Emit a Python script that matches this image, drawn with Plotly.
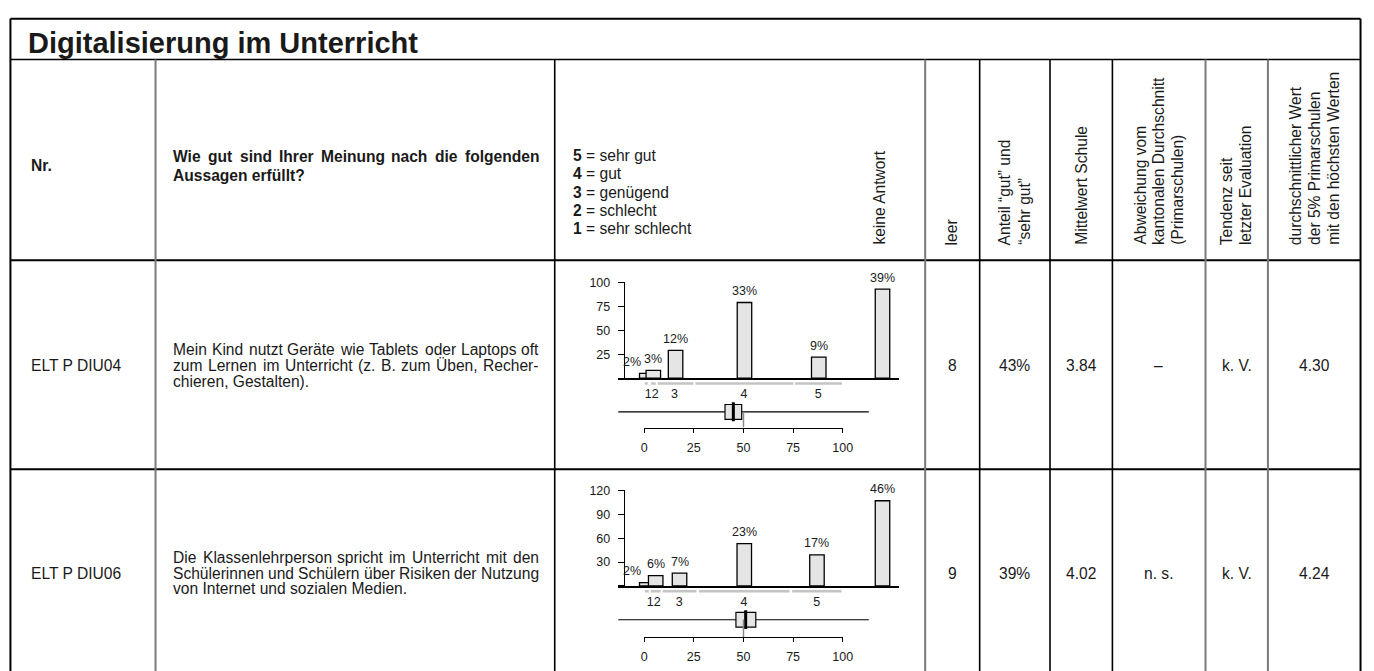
import plotly.graph_objects as go

W, H = 1374, 671
FONT = "Liberation Sans"
INK = "#1a1a1a"

# ---------------- data ----------------
title = "Digitalisierung im Unterricht"
item_ids = ["ELT P DIU04", "ELT P DIU06"]
item_texts = [
    ["Mein Kind nutzt Geräte wie Tablets oder Laptops oft",
     "zum Lernen im Unterricht (z. B. zum Üben, Recher-",
     "chieren, Gestalten)."],
    ["Die Klassenlehrperson spricht im Unterricht mit den",
     "Schülerinnen und Schülern über Risiken der Nutzung",
     "von Internet und sozialen Medien."],
]
categories = ["1", "2", "3", "4", "5", "keine Antwort"]
counts_1 = [5, 8, 29, 79, 22, 93]
counts_2 = [4, 13, 16, 53, 39, 107]
pct_1 = ["2%", "3%", "12%", "33%", "9%", "39%"]
pct_2 = ["2%", "6%", "7%", "23%", "17%", "46%"]
# bar positions on the 0-100 scale (keine Antwort placed right of the scale)
cat_pos_1 = [1.3, 4.6, 15.8, 50.5, 87.9, 120.0]
cat_pos_2 = [1.3, 5.8, 17.8, 50.4, 87.0, 120.0]
# category label positions on the 0-100 scale
cat_lab_1 = [2.1, 5.6, 15.3, 50.2, 87.6]
cat_lab_2 = [3.1, 6.6, 17.7, 50.2, 86.9]
# category ranges on the 0-100 scale (grey segments)
seg_lo_1 = [0.3, 3.4, 6.8, 25.8, 76.0]
seg_hi_1 = [1.8, 5.8, 24.8, 75.1, 99.6]
seg_lo_2 = [0.35, 3.3, 9.3, 27.6, 74.5]
seg_hi_2 = [2.3, 8.3, 26.3, 73.2, 99.4]
# box: q1, median, q3, whisker low, whisker high
box_q1 = [40.7, 46.2]
box_median = [44.9, 51.1]
box_q3 = [49.1, 56.2]
whisker_lo = [-13.1, -13.1]
whisker_hi = [113.1, 113.1]
ref_value = 50
y_ticks_1 = [0, 25, 50, 75, 100]
y_ticks_2 = [0, 30, 60, 90, 120]
scale_ticks = [0, 25, 50, 75, 100]
leer = ["8", "9"]
anteil = ["43%", "39%"]
mittelwert = ["3.84", "4.02"]
abweichung = ["–", "n. s."]
tendenz = ["k. V.", "k. V."]
top5 = ["4.30", "4.24"]

legend_lines = [("5", "sehr gut"), ("4", "gut"), ("3", "genügend"), ("2", "schlecht"), ("1", "sehr schlecht")]

# ---------------- font metrics (Arial / Liberation Sans, 1/1000 em) ----------------
_REG = dict(zip("abcdefghijklmnopqrstuvwxyz",
                [556, 556, 500, 556, 556, 278, 556, 556, 222, 222, 500, 222, 833, 556, 556, 556,
                 556, 333, 500, 278, 556, 500, 722, 500, 500, 500]))
_REG.update(dict(zip("ABCDEFGHIJKLMNOPQRSTUVWXYZ",
                     [667, 667, 722, 722, 667, 611, 778, 722, 278, 500, 667, 556, 833, 722, 778, 667,
                      778, 722, 667, 611, 722, 667, 944, 667, 667, 611])))
_REG.update({"ä": 556, "ö": 556, "ü": 556, "Ü": 722, "Ä": 667, "Ö": 778, " ": 278, ".": 278,
             ",": 278, "-": 333, "(": 333, ")": 333, "?": 556, "%": 889})
_BOLD = dict(zip("abcdefghijklmnopqrstuvwxyz",
                 [556, 611, 556, 611, 556, 333, 611, 611, 278, 278, 556, 278, 889, 611, 611, 611,
                  611, 389, 556, 333, 611, 556, 778, 556, 556, 500]))
_BOLD.update(dict(zip("ABCDEFGHIJKLMNOPQRSTUVWXYZ",
                      [722, 722, 722, 722, 667, 611, 778, 722, 278, 556, 722, 611, 833, 722, 778, 667,
                       778, 722, 667, 611, 722, 667, 944, 667, 667, 611])))
_BOLD.update({"ü": 611, "ä": 556, "ö": 611, " ": 278, ".": 278, ",": 278, "?": 611, "-": 333})


def text_width(s, size, bold=False):
    tbl = _BOLD if bold else _REG
    return sum(tbl.get(ch, 556) for ch in s) * size / 1000.0


# ---------------- geometry helpers ----------------
def fx(px):
    return px / W


def fy(py):
    return 1 - py / H


X0PX, PXU = 647.3, 2.005          # pixel of scale value 0, pixels per scale unit
PLOT_L, PLOT_R, YAX_X = 621.0, 905.0, 626.7
x_range = [(PLOT_L - X0PX) / PXU, (PLOT_R - X0PX) / PXU]
BAR_W = 7.3
SEG_OFF, LAB_OFF, WHISK_OFF = 5.5, 17.0, 34.0
BOX_C, BOX_H = 34.2, 15.0
MED_TOP, MED_BOT = 24.5, 43.5
FS = 15.6           # table text size
TEXT_L, TEXT_R = 171.0, 539.5

rows = [
    dict(base=375.0, top=278.3, ymax=100, yticks=y_ticks_1, counts=counts_1, pct=pct_1,
         pos=cat_pos_1, lab=cat_lab_1, lo=seg_lo_1, hi=seg_hi_1, scale_y=425.0, center=362.0),
    dict(base=585.0, top=488.5, ymax=120, yticks=y_ticks_2, counts=counts_2, pct=pct_2,
         pos=cat_pos_2, lab=cat_lab_2, lo=seg_lo_2, hi=seg_hi_2, scale_y=636.7, center=572.0),
]


def axname(letter, k):
    return f"{letter}axis" if k == 1 else f"{letter}axis{k}"


def axref(letter, k):
    return letter if k == 1 else f"{letter}{k}"


fig = go.Figure()
layout_axes = {}
annotations = []
tick_font = dict(family=FONT, size=12.5, color=INK)

for i, r in enumerate(rows):
    xa, xs = 2 * i + 1, 2 * i + 2
    ya, ym = 2 * i + 1, 2 * i + 2
    depth = r["scale_y"] - r["base"]

    layout_axes[axname("x", xa)] = dict(
        domain=[fx(PLOT_L), fx(PLOT_R)], range=x_range, anchor=axref("y", ya),
        showline=True, linewidth=2, linecolor="black", showticklabels=False,
        ticks="", showgrid=False, zeroline=False, fixedrange=True)
    layout_axes[axname("y", ya)] = dict(
        domain=[fy(r["base"]), fy(r["top"])], range=[0, r["ymax"]], anchor="free",
        position=fx(YAX_X), showline=True, linewidth=1, linecolor="black",
        ticks="outside", ticklen=6, tickwidth=1, tickcolor="black", ticklabelstandoff=5,
        tickvals=r["yticks"], ticktext=[""] + [str(v) for v in r["yticks"][1:]],
        tickfont=tick_font, showgrid=False, zeroline=False, fixedrange=True)
    layout_axes[axname("y", ym)] = dict(
        domain=[fy(r["scale_y"]), fy(r["base"] + 1)], range=[-depth, -1],
        anchor=axref("x", xa), visible=False, showgrid=False, zeroline=False, fixedrange=True)
    layout_axes[axname("x", xs)] = dict(
        domain=[fx(X0PX), fx(X0PX + 100 * PXU)], range=[0, 100], anchor=axref("y", ym),
        showline=True, linewidth=1, linecolor="black", ticks="outside", ticklen=4,
        tickwidth=1, tickcolor="black", ticklabelstandoff=4, tickvals=scale_ticks,
        tickfont=tick_font, showgrid=False, zeroline=False, fixedrange=True)

    # bars
    fig.add_trace(go.Bar(
        x=r["pos"], y=r["counts"], width=BAR_W,
        marker=dict(color="#e5e5e5", line=dict(color="black", width=1.3)),
        xaxis=axref("x", xa), yaxis=axref("y", ya), cliponaxis=False,
        showlegend=False, hoverinfo="skip"))
    for j, (p, c, t) in enumerate(zip(r["pos"], r["counts"], r["pct"])):
        annotations.append(dict(
            x=p, y=c, xref=axref("x", xa), yref=axref("y", ya), text=t, showarrow=False,
            xanchor="center", yanchor="middle", yshift=11.5, xshift=-14.5 if j == 0 else 0,
            font=dict(family=FONT, size=12.5, color=INK)))

    # grey category ranges
    sx, sy = [], []
    for lo, hi in zip(r["lo"], r["hi"]):
        sx += [lo, hi, None]
        sy += [-SEG_OFF, -SEG_OFF, None]
    fig.add_trace(go.Scatter(
        x=sx, y=sy, mode="lines", line=dict(color="#c4c4c4", width=2.5),
        xaxis=axref("x", xs), yaxis=axref("y", ym), showlegend=False, hoverinfo="skip"))

    # category labels
    fig.add_trace(go.Scatter(
        x=r["lab"], y=[-LAB_OFF] * 5, text=categories[:5], mode="text",
        textfont=dict(family=FONT, size=12.5, color=INK), cliponaxis=False,
        xaxis=axref("x", xa), yaxis=axref("y", ym), showlegend=False, hoverinfo="skip"))

    # reference line at scale midpoint
    fig.add_trace(go.Scatter(
        x=[ref_value, ref_value], y=[-WHISK_OFF, -depth], mode="lines",
        line=dict(color="#8a8a8a", width=1.5),
        xaxis=axref("x", xs), yaxis=axref("y", ym), showlegend=False, hoverinfo="skip"))

    # box
    fig.add_trace(go.Box(
        orientation="h", y=[-BOX_C], q1=[box_q1[i]], median=[box_median[i]], q3=[box_q3[i]],
        lowerfence=[whisker_lo[i]], upperfence=[whisker_hi[i]], width=BOX_H,
        fillcolor="#e5e5e5", line=dict(color="black", width=1.2), whiskerwidth=0,
        boxpoints=False, xaxis=axref("x", xa), yaxis=axref("y", ym),
        showlegend=False, hoverinfo="skip"))
    fig.add_trace(go.Scatter(
        x=[box_median[i], box_median[i]], y=[-MED_TOP, -MED_BOT], mode="lines",
        line=dict(color="black", width=3),
        xaxis=axref("x", xa), yaxis=axref("y", ym), showlegend=False, hoverinfo="skip"))

# ---------------- table frame ----------------
BLACK, GREY = "#000000", "#7a7a7a"
shapes = []


def hline(y, x0, x1, color=BLACK, w=1.6):
    shapes.append(dict(type="line", xref="paper", yref="paper", x0=fx(x0), x1=fx(x1),
                       y0=fy(y), y1=fy(y), line=dict(color=color, width=w)))


def vline(x, y0, y1, color=BLACK, w=1.6):
    shapes.append(dict(type="line", xref="paper", yref="paper", x0=fx(x), x1=fx(x),
                       y0=fy(y0), y1=fy(y1), line=dict(color=color, width=w)))


L, R = 7.5, 1370.5
hline(12, L, R, w=2)
hline(53, L, R)
hline(256, L, R, w=2)
hline(467, L, R, w=2)
vline(L, 12, 671, w=2)
vline(R, 12, 671, w=2)
for xpos, col in [(154, GREY), (557, BLACK), (931, GREY), (986, BLACK), (1057, BLACK),
                  (1120, BLACK), (1214, GREY), (1277, GREY)]:
    vline(xpos, 53, 671, color=col, w=2 if col == GREY else 1.6)


def txt(x, y, text, size=FS, xanchor="left", yanchor="middle", angle=0, bold=False):
    annotations.append(dict(
        x=fx(x), y=fy(y), xref="paper", yref="paper", showarrow=False,
        text=f"<b>{text}</b>" if bold else text, xanchor=xanchor, yanchor=yanchor,
        textangle=angle, borderpad=0, font=dict(family=FONT, size=size, color=INK)))


def justified(line, y, bold=False, size=FS):
    words = line.split(" ")
    widths = [text_width(w, size, bold) for w in words]
    gap = (TEXT_R - TEXT_L - sum(widths)) / (len(words) - 1)
    x = TEXT_L
    for w, wd in zip(words, widths):
        txt(x, y, w, size=size, bold=bold)
        x += wd + gap


# title
txt(24, 36, title, size=29, bold=True)

# header
txt(27, 160, "Nr.", bold=True)
justified("Wie gut sind Ihrer Meinung nach die folgenden", 151, bold=True)
txt(TEXT_L, 170, "Aussagen erfüllt?", bold=True)
for k, (num, lab) in enumerate(legend_lines):
    txt(574, 150 + 18.5 * k, f"<b>{num}</b> = {lab}")

HDR_BOTTOM = 241.5
rot_headers = [
    (885, ["keine Antwort"]),
    (958.5, ["leer"]),
    (1021.5, ["Anteil “gut” und", "“sehr gut”"]),
    (1088.5, ["Mittelwert Schule"]),
    (1167, ["Abweichung vom", "kantonalen Durchschnitt", "(Primarschulen)"]),
    (1245.5, ["Tendenz seit", "letzter Evaluation"]),
    (1324, ["durchschnittlicher Wert", "der 5% Primarschulen", "mit den höchsten Werten"]),
]
LS = 19
for cx, lines in rot_headers:
    n = len(lines)
    for k, line in enumerate(lines):
        txt(cx + (k - (n - 1) / 2) * LS, HDR_BOTTOM, line, angle=-90,
            xanchor="center", yanchor="bottom")

# rows
value_cols = [(958.5, leer), (1021.5, anteil), (1088.5, mittelwert), (1167, abweichung),
              (1245.5, tendenz), (1324, top5)]
ROW_LS = 16
for i, r in enumerate(rows):
    cy = r["center"]
    txt(27, cy, item_ids[i])
    lines = item_texts[i]
    for k, line in enumerate(lines):
        yy = cy + (k - 1) * ROW_LS
        if k < len(lines) - 1:
            justified(line, yy)
        else:
            txt(TEXT_L, yy, line)
    for cx, vals in value_cols:
        txt(cx, cy, vals[i], xanchor="center")

fig.update_layout(
    width=W, height=H, margin=dict(l=0, r=0, t=0, b=0),
    paper_bgcolor="white", plot_bgcolor="rgba(0,0,0,0)",
    shapes=shapes, annotations=annotations, showlegend=False, bargap=0,
    **layout_axes)

fig.write_html("out.html", config={"displayModeBar": False, "staticPlot": True},
               post_script="document.body.style.margin='0';document.body.style.overflow='hidden';")
